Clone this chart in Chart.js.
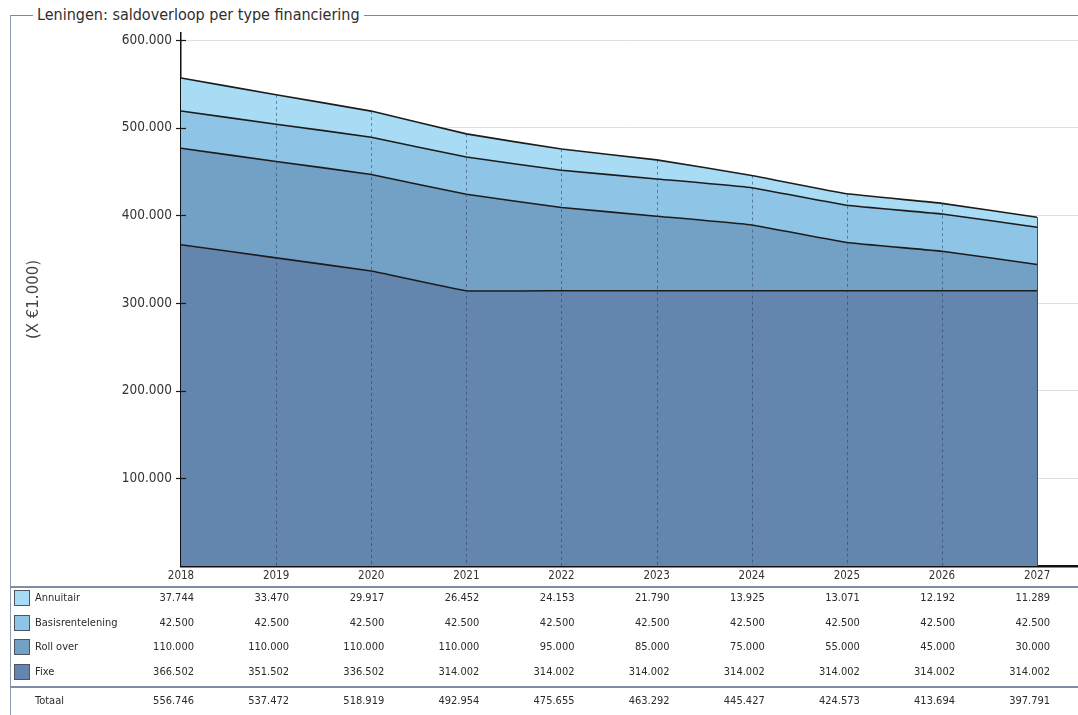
<!DOCTYPE html>
<html lang="nl">
<head>
<meta charset="utf-8">
<title>Leningen: saldoverloop per type financiering</title>
<script src="https://cdn.jsdelivr.net/npm/chart.js@4.4.1/dist/chart.umd.min.js"></script>
<style>
  html, body { margin: 0; padding: 0; background: #fff; overflow: hidden; }
  #wrap { position: relative; width: 1078px; height: 715px; }
  #frame {
    position: absolute; left: 10px; top: 15px; width: 1100px; height: 760px;
    border-left: 1px solid #8e9bb3; border-top: 1px solid #7d889c;
  }
  #title {
    position: absolute; left: 33px; top: 4px; padding: 0 4px; background: #fff;
    font: 16px "DejaVu Sans Condensed", "DejaVu Sans", sans-serif; color: #2e2e2e;
    line-height: 22px; white-space: nowrap;
  }
  #chart { position: absolute; left: 0; top: 0; }
</style>
</head>
<body>
<div id="wrap">
  <div id="frame"></div>
  <div id="title">Leningen: saldoverloop per type financiering</div>
  <canvas id="chart" width="1078" height="715"></canvas>
</div>
<script>
// Balances per financing type (x €1.000)
const years = [2018, 2019, 2020, 2021, 2022, 2023, 2024, 2025, 2026, 2027];
const annuitair = [37744, 33470, 29917, 26452, 24153, 21790, 13925, 13071, 12192, 11289];
const basisrentelening = [42500, 42500, 42500, 42500, 42500, 42500, 42500, 42500, 42500, 42500];
const rollOver = [110000, 110000, 110000, 110000, 95000, 85000, 75000, 55000, 45000, 30000];
const fixe = [366502, 351502, 336502, 314002, 314002, 314002, 314002, 314002, 314002, 314002];
const totaal = [556746, 537472, 518919, 492954, 475655, 463292, 445427, 424573, 413694, 397791];
const yTickValues = [100000, 200000, 300000, 400000, 500000, 600000];
const totalLabel = 'Totaal';
const axisTitle = '(X \u20AC1.000)';

const colors = {
  'Annuitair': '#a7dcf4',
  'Basisrentelening': '#8ec4e6',
  'Roll over': '#73a1c6',
  'Fixe': '#6486ae'
};

const fmt = n => String(Math.round(n)).replace(/\B(?=(\d{3})+(?!\d))/g, '.');
const FONT = '"DejaVu Sans Condensed", "DejaVu Sans", sans-serif';

const toPoints = arr => arr.map((v, i) => ({ x: years[i], y: v }));

// stacked from the bottom up
const stackOrder = [
  ['Fixe', fixe],
  ['Roll over', rollOver],
  ['Basisrentelening', basisrentelening],
  ['Annuitair', annuitair]
];

const datasets = stackOrder.map(([name, arr], i) => ({
  label: name,
  data: toPoints(arr),
  backgroundColor: colors[name],
  borderColor: '#1c1c1c',
  borderWidth: 1.6,
  pointRadius: 0,
  tension: 0.08,
  fill: i === 0 ? 'origin' : '-1'
}));

const tableRows = [
  ['Annuitair', annuitair],
  ['Basisrentelening', basisrentelening],
  ['Roll over', rollOver],
  ['Fixe', fixe]
];

// year grid lines inside the filled area, inner tick marks and the value table
const overlay = {
  id: 'overlay',
  afterDatasetsDraw(chart) {
    const { ctx, scales: { x, y } } = chart;
    ctx.save();
    years.forEach((yr, i) => {
      if (i === 0) return;
      const px = Math.round(x.getPixelForValue(yr)) + 0.5;
      const top = y.getPixelForValue(totaal[i]);
      ctx.beginPath();
      if (i === years.length - 1) {
        ctx.setLineDash([]);
        ctx.strokeStyle = '#4a4a4a';
      } else {
        ctx.setLineDash([3, 3]);
        ctx.strokeStyle = 'rgba(40,60,95,0.55)';
      }
      ctx.lineWidth = 1;
      ctx.moveTo(px, top);
      ctx.lineTo(px, y.bottom);
      ctx.stroke();
    });
    ctx.restore();
  },
  afterDraw(chart) {
    const { ctx, scales: { x, y } } = chart;
    ctx.save();
    // tick marks crossing the value axis
    ctx.strokeStyle = '#1a1a1a';
    ctx.lineWidth = 1.2;
    y.ticks.forEach(t => {
      if (t.value <= 0) return;
      const py = Math.round(y.getPixelForValue(t.value)) + 0.5;
      ctx.beginPath();
      ctx.moveTo(x.left - 5, py);
      ctx.lineTo(x.left + 5, py);
      ctx.stroke();
    });

    // separators of the table
    ctx.strokeStyle = '#7f8ea8';
    ctx.lineWidth = 2;
    [587, 687].forEach(py => {
      ctx.beginPath();
      ctx.moveTo(10, py);
      ctx.lineTo(chart.width, py);
      ctx.stroke();
    });

    ctx.font = '11px ' + FONT;
    ctx.textBaseline = 'middle';
    const rowY = [598, 623, 647, 672];
    tableRows.forEach(([name, arr], r) => {
      const cy = rowY[r];
      ctx.fillStyle = colors[name];
      ctx.fillRect(14.5, cy - 7.5, 15, 15);
      ctx.strokeStyle = '#4d5563';
      ctx.lineWidth = 1;
      ctx.strokeRect(14.5, cy - 7.5, 15, 15);
      ctx.fillStyle = '#2b2b2b';
      ctx.textAlign = 'left';
      ctx.fillText(name, 35, cy);
      ctx.textAlign = 'right';
      arr.forEach((v, i) => {
        ctx.fillText(fmt(v), x.getPixelForValue(years[i]) + 13, cy);
      });
    });
    const ty = 701;
    ctx.fillStyle = '#2b2b2b';
    ctx.textAlign = 'left';
    ctx.fillText(totalLabel, 35, ty);
    ctx.textAlign = 'right';
    totaal.forEach((v, i) => {
      ctx.fillText(fmt(v), x.getPixelForValue(years[i]) + 13, ty);
    });
    ctx.restore();
  }
};

new Chart(document.getElementById('chart'), {
  type: 'line',
  data: { datasets },
  plugins: [overlay],
  options: {
    responsive: false,
    animation: false,
    layout: { padding: { top: 33, left: 0, right: 0, bottom: 0 } },
    plugins: {
      legend: { display: false },
      title: { display: false },
      tooltip: { enabled: false }
    },
    scales: {
      x: {
        type: 'linear',
        min: 2018,
        max: 2027.43,
        z: 1,
        afterFit(scale) { scale.height = 149; },
        afterBuildTicks(scale) { scale.ticks = years.map(v => ({ value: v })); },
        grid: { display: false, drawTicks: false },
        border: { display: true, color: '#111', width: 2.5 },
        ticks: {
          padding: 3,
          maxRotation: 0,
          autoSkip: false,
          color: '#333',
          font: { family: FONT, size: 11.5 },
          callback: v => String(v)
        }
      },
      y: {
        stacked: true,
        min: 0,
        max: 608000,
        z: 1,
        afterFit(scale) { scale.width = 181; },
        afterBuildTicks(scale) { scale.ticks = yTickValues.map(v => ({ value: v })); },
        grid: { color: 'rgba(0,0,0,0.12)', lineWidth: 1, drawTicks: false },
        border: { display: true, color: '#111', width: 1.5 },
        title: {
          display: true,
          text: axisTitle,
          color: '#444',
          font: { family: '"DejaVu Sans", sans-serif', size: 15 },
          padding: { top: 25, bottom: 0 }
        },
        ticks: {
          padding: 9,
          color: '#333',
          font: { family: FONT, size: 13.5 },
          callback: v => fmt(v)
        }
      }
    }
  }
});
</script>
</body>
</html>
